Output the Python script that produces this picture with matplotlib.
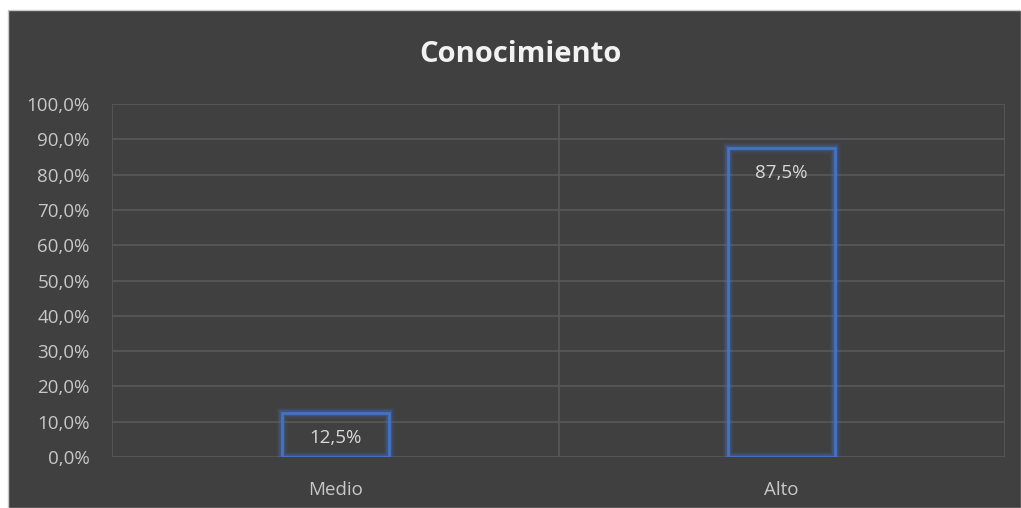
import matplotlib.pyplot as plt
from matplotlib.patches import Rectangle
from matplotlib.ticker import FuncFormatter

###  Data
categories = ["Medio", "Alto"]
values = [0.125, 0.875]
title = "Conocimiento"

bg = "#404040"
grid = "#595959"
txt = "#c8c8c8"
blue = "#4472C4"

plt.rcParams['font.family'] = ['Open Sans', 'DejaVu Sans']

fig = plt.figure(figsize=(10.21, 5.08), dpi=100)
fig.patch.set_facecolor("white")
# dark chart area with a thin light frame
fig.add_artist(Rectangle((8/1021, 0), 1 - 8/1021, 1 - 10/508, transform=fig.transFigure,
                         facecolor=bg, edgecolor="#c8c8c8", linewidth=1.0, zorder=-5))

ax = fig.add_axes([112/1021, 51/508, 893/1021, 353/508])
ax.patch.set_alpha(0)

x = [i + 0.5 for i in range(len(categories))]
ax.set_xlim(0, len(categories))
ax.set_ylim(0, 1)

# gridlines
for yv in [i / 10 for i in range(11)]:
    ax.axhline(yv, color=grid, linewidth=1.2, zorder=1)
for xv in range(len(categories) + 1):
    ax.axvline(xv, color=grid, linewidth=1.2, zorder=1)

# outlined bars with soft glow
w = 0.24
for lw, a in [(8, 0.08), (6, 0.14), (4, 0.3)]:
    ax.bar(x, values, width=w, facecolor="none", edgecolor=blue, linewidth=lw, alpha=a, zorder=2)
bars = ax.bar(x, values, width=w, facecolor="none", edgecolor=blue, linewidth=2, zorder=3)

for xi, v in zip(x, values):
    ax.annotate(f"{v*100:.1f}%".replace(".", ","), (xi, v), xytext=(0, -18),
                textcoords="offset points", ha="center", va="center",
                color="#d9d9d9", fontsize=13.5, zorder=4)

ax.set_yticks([i / 10 for i in range(11)])
ax.yaxis.set_major_formatter(FuncFormatter(lambda v, p: f"{v*100:.1f}%".replace(".", ",")))
ax.set_xticks(x)
ax.set_xticklabels(categories)
ax.tick_params(axis="both", length=0, colors=txt, labelsize=13.5)
ax.tick_params(axis="x", pad=17)
ax.tick_params(axis="y", pad=16)
for s in ax.spines.values():
    s.set_visible(False)

fig.text(520/1021, 1 - 55/508, title, ha="center", va="center",
         color="#f2f2f2", fontsize=21, fontweight="bold")

fig.savefig("out.png", dpi=100, facecolor=fig.get_facecolor())
